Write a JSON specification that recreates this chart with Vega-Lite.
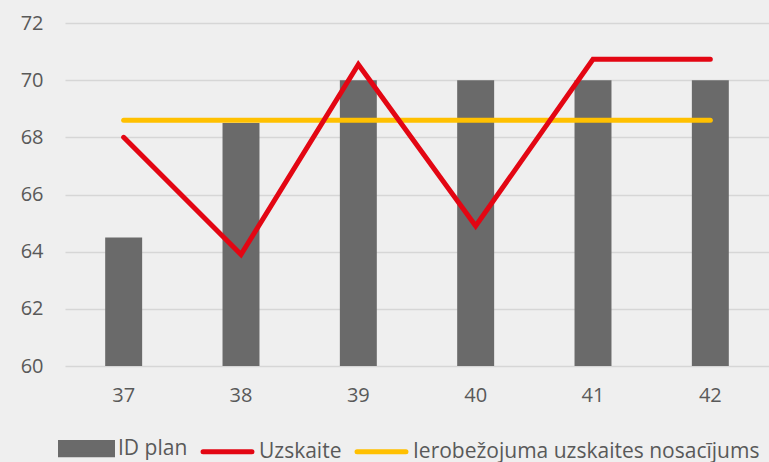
{
  "$schema": "https://vega.github.io/schema/vega-lite/v6.json",
  "autosize": "none",
  "width": 704,
  "height": 343,
  "padding": {"left": 65, "top": 23, "right": 0, "bottom": 96},
  "background": "#efefef",
  "config": {
    "view": {"stroke": null},
    "font": "Open Sans",
    "axis": {"labelFont": "Open Sans", "labelFontSize": 20, "labelColor": "#595959", "domain": false, "ticks": false, "title": null},
    "legend": {"labelFont": "Open Sans", "labelFontSize": 21, "labelColor": "#595959"}
  },
  "data": {
    "values": [
      {"week": "37", "plan": 64.5, "uzskaite": 68.0, "limit": 68.6},
      {"week": "38", "plan": 68.5, "uzskaite": 63.9, "limit": 68.6},
      {"week": "39", "plan": 70.0, "uzskaite": 70.55, "limit": 68.6},
      {"week": "40", "plan": 70.0, "uzskaite": 64.9, "limit": 68.6},
      {"week": "41", "plan": 70.0, "uzskaite": 70.73, "limit": 68.6},
      {"week": "42", "plan": 70.0, "uzskaite": 70.73, "limit": 68.6}
    ]
  },
  "encoding": {
    "x": {"field": "week", "type": "ordinal", "scale": {"paddingInner": 0.685, "paddingOuter": 0.3425},
      "axis": {"labelAngle": 0, "labelPadding": 19, "grid": false}}
  },
  "layer": [
    {
      "mark": {"type": "bar", "color": "#6a6a6a"},
      "encoding": {
        "y": {"field": "plan", "type": "quantitative", "scale": {"domain": [60, 72], "zero": false}, "axis": {"values": [60, 62, 64, 66, 68, 70, 72], "grid": true, "gridColor": "#d6d6d6", "gridWidth": 1.5, "labelPadding": 22}},
        "y2": {"datum": 60},
        "color": {"datum": "ID plan", "type": "nominal",
          "scale": {"domain": ["ID plan", "Uzskaite", "Ierobežojuma uzskaites nosacījums"], "range": ["#6a6a6a", "#e30613", "#ffc000"]},
          "legend": {
            "title": null, "orient": "none", "direction": "horizontal", "legendX": -7, "legendY": 397,
            "symbolSize": 2704, "labelOffset": 3, "columnPadding": 5, "symbolStrokeWidth": 5, "labelLimit": 500,
            "encode": {
              "symbols": {"update": {
                "shape": {"signal": "datum.value === 'ID plan' ? 'M-1,-0.24H1V0.24H-1Z' : 'M-0.94,0H0.94'"},
                "fill": {"signal": "datum.value === 'ID plan' ? '#6a6a6a' : 'transparent'"},
                "stroke": {"signal": "datum.value === 'ID plan' ? 'transparent' : scale('color', datum.value)"},
                "strokeWidth": {"value": 5},
                "strokeCap": {"value": "round"},
                "opacity": {"value": 1}
              }}
            }
          }}
      }
    },
    {
      "mark": {"type": "line", "strokeWidth": 5, "strokeCap": "round", "strokeJoin": "miter"},
      "encoding": {
        "y": {"field": "limit", "type": "quantitative"},
        "color": {"datum": "Ierobežojuma uzskaites nosacījums", "type": "nominal"}
      }
    },
    {
      "mark": {"type": "line", "strokeWidth": 5, "strokeCap": "round", "strokeJoin": "miter"},
      "encoding": {
        "y": {"field": "uzskaite", "type": "quantitative"},
        "color": {"datum": "Uzskaite", "type": "nominal"}
      }
    }
  ]
}
